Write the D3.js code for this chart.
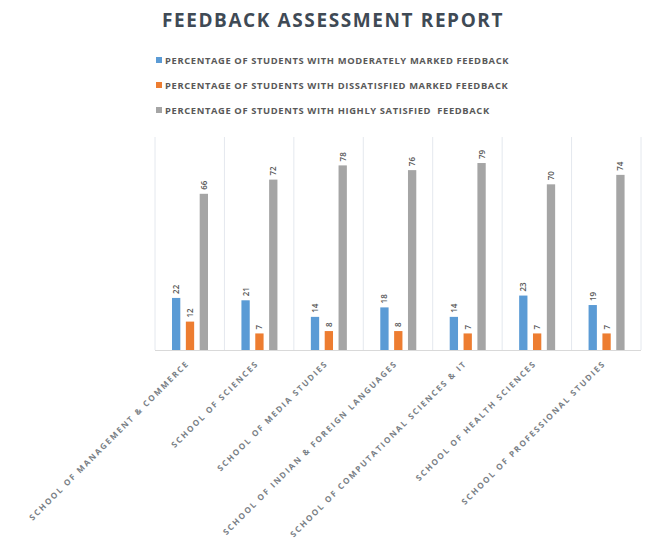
<!DOCTYPE html>
<html>
<head>
<meta charset="utf-8">
<script src="https://cdn.jsdelivr.net/npm/d3@7"></script>
<style>
  body { margin: 0; background: #fff; }
  svg text { font-family: "Open Sans", "Noto Sans", sans-serif; white-space: pre; }
</style>
</head>
<body>
<svg id="chart" width="649" height="554"></svg>
<script>
var schools = [
    "SCHOOL OF MANAGEMENT & COMMERCE",
    "SCHOOL OF SCIENCES",
    "SCHOOL OF MEDIA STUDIES",
    "SCHOOL OF INDIAN & FOREIGN LANGUAGES",
    "SCHOOL OF COMPUTATIONAL SCIENCES & IT",
    "SCHOOL OF HEALTH SCIENCES",
    "SCHOOL OF PROFESSIONAL STUDIES"
];
var moderate = [22, 21, 14, 18, 14, 23, 19];
var dissatisfied = [12, 7, 8, 8, 7, 7, 7];
var highly = [66, 72, 78, 76, 79, 70, 74];
var seriesNames = [
    "PERCENTAGE OF STUDENTS WITH MODERATELY MARKED FEEDBACK",
    "PERCENTAGE OF STUDENTS WITH DISSATISFIED MARKED FEEDBACK",
    "PERCENTAGE OF STUDENTS WITH HIGHLY SATISFIED  FEEDBACK"
];
var colors = ["#5b9bd5", "#ed7d31", "#a5a5a5"];

var svg = d3.select("#chart");
var plot = { left: 155, right: 641, top: 137, bottom: 350 };

var series = [moderate, dissatisfied, highly];
var rows = schools.map(function (s, i) {
    return { name: s, values: series.map(function (v) { return v[i]; }) };
});

var x = d3.scaleBand()
    .domain(schools)
    .range([plot.left, plot.right]);

var xSub = d3.scaleBand()
    .domain([0, 1, 2])
    .range([17, 53])
    .paddingInner(0.4);

var y = d3.scaleLinear()
    .domain([0, 90])
    .range([plot.bottom, plot.top]);

// title
svg.append("text")
    .attr("x", 333)
    .attr("y", 27)
    .attr("text-anchor", "middle")
    .style("font-size", "19px")
    .style("font-weight", "bold")
    .style("letter-spacing", "1.6px")
    .attr("fill", "#3f4a55")
    .text("FEEDBACK ASSESSMENT REPORT");

// legend
var legend = svg.selectAll("g.legend")
    .data(seriesNames)
    .enter()
    .append("g")
        .attr("class", "legend")
        .attr("transform", function (d, i) {
            return "translate(156," + (60 + i * 25) + ")";
        });

legend.append("rect")
    .attr("x", 0)
    .attr("y", -3)
    .attr("width", 6)
    .attr("height", 6)
    .attr("fill", function (d, i) { return colors[i]; });

legend.append("text")
    .attr("x", 9)
    .attr("y", 3.5)
    .style("font-size", "9.4px")
    .style("font-weight", "bold")
    .style("letter-spacing", "0.62px")
    .attr("fill", "#595959")
    .text(function (d) { return d; });

// vertical separators
svg.selectAll("line.sep")
    .data(schools.concat(["end"]))
    .enter()
    .append("line")
        .attr("class", "sep")
        .attr("x1", function (d, i) { return plot.left + i * x.bandwidth(); })
        .attr("x2", function (d, i) { return plot.left + i * x.bandwidth(); })
        .attr("y1", plot.top)
        .attr("y2", plot.bottom)
        .attr("stroke", "#e4e8ee")
        .attr("stroke-width", 1);

// baseline
svg.append("line")
    .attr("x1", plot.left)
    .attr("x2", plot.right)
    .attr("y1", plot.bottom + 0.5)
    .attr("y2", plot.bottom + 0.5)
    .attr("stroke", "#d9d9d9");

var groups = svg.selectAll("g.school")
    .data(rows)
    .enter()
    .append("g")
        .attr("class", "school")
        .attr("transform", function (d) { return "translate(" + x(d.name) + ",0)"; });

groups.selectAll("rect")
    .data(function (d) { return d.values; })
    .enter()
    .append("rect")
        .attr("x", function (v, i) { return xSub(i); })
        .attr("width", xSub.bandwidth())
        .attr("y", function (v) { return y(v); })
        .attr("height", function (v) { return plot.bottom - y(v); })
        .attr("fill", function (v, i) { return colors[i]; });

groups.selectAll("text.val")
    .data(function (d) { return d.values; })
    .enter()
    .append("text")
        .attr("class", "val")
        .attr("transform", function (v, i) {
            return "translate(" + (xSub(i) + xSub.bandwidth() / 2 + 3) + "," + (y(v) - 4) + ") rotate(-90)";
        })
        .style("font-size", "8px")
        .style("font-weight", "600")
        .attr("fill", "#595959")
        .text(function (v) { return v; });

// category labels
svg.selectAll("text.cat")
    .data(schools)
    .enter()
    .append("text")
        .attr("class", "cat")
        .attr("text-anchor", "end")
        .attr("transform", function (d) {
            return "translate(" + (x(d) + x.bandwidth() / 2) + ",364) rotate(-45)";
        })
        .style("font-size", "8.2px")
        .style("font-weight", "bold")
        .style("letter-spacing", "1.8px")
        .attr("fill", "#7a7f86")
        .text(function (d) { return d; });
</script>
</body>
</html>
